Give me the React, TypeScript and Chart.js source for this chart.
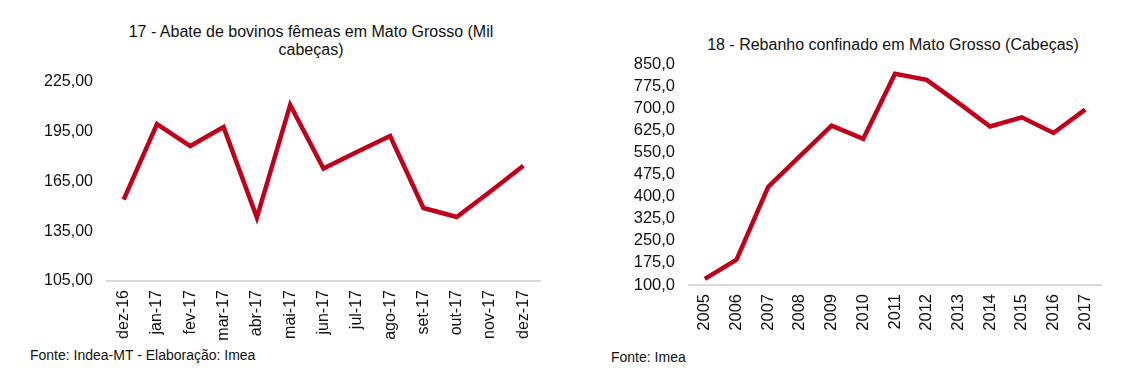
import React, { useEffect, useRef } from "react";
import { Chart, registerables } from "chart.js";

Chart.register(...registerables);

const monthLabels = ["dez-16", "jan-17", "fev-17", "mar-17", "abr-17", "mai-17", "jun-17", "jul-17", "ago-17", "set-17", "out-17", "nov-17", "dez-17"];
const femaleSlaughter = [154.1, 199.6, 186.4, 197.8, 143.2, 211.2, 172.8, 182.8, 192.4, 149.0, 143.6, 158.8, 174.5];

const yearLabels = ["2005", "2006", "2007", "2008", "2009", "2010", "2011", "2012", "2013", "2014", "2015", "2016", "2017"];
const confinedHerd = [121, 186, 433, 537, 641, 596, 817, 796, 718, 638, 669, 616, 695];

const chart1Ticks = { min: 105, max: 225, step: 30 };
const chart2Ticks = { min: 100, max: 850, step: 75 };

const FONT = "'Liberation Sans', Arial, Helvetica, sans-serif";
const RED = "#C0001A";
const AXIS_GRAY = "#D9D9D9";
const TEXT = "#111111";

type Cfg = {
  labels: string[];
  data: number[];
  ticks: { min: number; max: number; step: number };
  decimals: number;
  width: number;
  height: number;
  padding: { left: number; right: number; top: number; bottom: number };
  yWidth: number;
  xHeight: number;
  xPad: number;
  fontSize: number;
};

function LineChart({ cfg, style }: { cfg: Cfg; style: React.CSSProperties }) {
  const ref = useRef<HTMLCanvasElement | null>(null);
  useEffect(() => {
    if (!ref.current) return;
    const chart = new Chart(ref.current, {
      type: "line",
      data: {
        labels: cfg.labels,
        datasets: [
          {
            data: cfg.data,
            borderColor: RED,
            backgroundColor: RED,
            borderWidth: 4.5,
            pointRadius: 0,
            tension: 0,
            fill: false,
          },
        ],
      },
      options: {
        responsive: false,
        animation: false,
        layout: { padding: cfg.padding },
        plugins: { legend: { display: false }, title: { display: false }, tooltip: { enabled: false } },
        scales: {
          x: {
            offset: true,
            grid: { display: false, drawTicks: false },
            border: { display: true, color: AXIS_GRAY, width: 2 },
            ticks: {
              autoSkip: false,
              maxRotation: 90,
              minRotation: 90,
              padding: cfg.xPad,
              color: TEXT,
              font: { family: FONT, size: cfg.fontSize },
            },
            afterFit: (axis: any) => {
              axis.height = cfg.xHeight;
            },
          },
          y: {
            min: cfg.ticks.min,
            max: cfg.ticks.max,
            grid: { display: false, drawTicks: false },
            border: { display: false },
            ticks: {
              stepSize: cfg.ticks.step,
              autoSkip: false,
              padding: 14,
              color: TEXT,
              font: { family: FONT, size: cfg.fontSize },
              callback: (v: any) => Number(v).toFixed(cfg.decimals).replace(".", ","),
            },
            afterFit: (axis: any) => {
              axis.width = cfg.yWidth;
            },
          },
        },
      },
    });
    return () => chart.destroy();
  }, []);
  return (
    <canvas
      ref={ref}
      width={cfg.width}
      height={cfg.height}
      style={{ position: "absolute", width: cfg.width, height: cfg.height, ...style }}
    />
  );
}

const cfg1: Cfg = {
  labels: monthLabels,
  data: femaleSlaughter,
  ticks: chart1Ticks,
  decimals: 2,
  width: 560,
  height: 345,
  padding: { left: 0, right: 20, top: 82, bottom: 0 },
  yWidth: 107,
  xHeight: 64,
  xPad: 9,
  fontSize: 16,
};

const cfg2: Cfg = {
  labels: yearLabels,
  data: confinedHerd,
  ticks: chart2Ticks,
  decimals: 1,
  width: 567,
  height: 345,
  padding: { left: 0, right: 46, top: 64, bottom: 0 },
  yWidth: 109,
  xHeight: 60,
  xPad: 9,
  fontSize: 16.5,
};

const textBase: React.CSSProperties = {
  position: "absolute",
  fontFamily: FONT,
  color: TEXT,
  whiteSpace: "nowrap",
};

export default function App() {
  return (
    <div style={{ position: "absolute", left: 0, top: 0, width: 1147, height: 392, background: "#fff", overflow: "hidden" }}>
      <div style={{ ...textBase, left: 111, top: 23, width: 400, textAlign: "center", fontSize: 16, lineHeight: "18px" }}>
        17 - Abate de bovinos fêmeas em Mato Grosso (Mil
        <br />
        cabeças)
      </div>
      <LineChart cfg={cfg1} style={{ left: 0, top: 0 }} />
      <div style={{ ...textBase, left: 30, top: 347, fontSize: 14, lineHeight: "16px" }}>Fonte: Indea-MT - Elaboração: Imea</div>

      <div style={{ ...textBase, left: 693, top: 36, width: 400, textAlign: "center", fontSize: 16, lineHeight: "18px" }}>
        18 - Rebanho confinado em Mato Grosso (Cabeças)
      </div>
      <LineChart cfg={cfg2} style={{ left: 580, top: 0 }} />
      <div style={{ ...textBase, left: 611, top: 349, fontSize: 14, lineHeight: "16px" }}>Fonte: Imea</div>
    </div>
  );
}
